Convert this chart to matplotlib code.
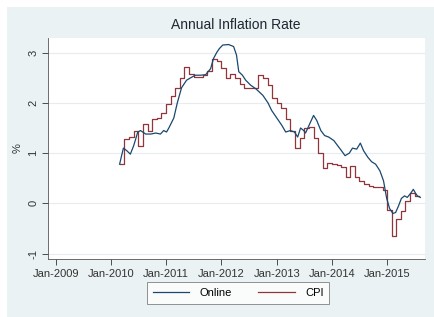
import matplotlib

matplotlib.use("Agg")
import matplotlib.dates as mdates
import matplotlib.pyplot as plt
import pandas as pd
from matplotlib.patches import Rectangle

# Online price index, annual inflation (%)
online_dates = [
    "2010-02-28", "2010-03-13", "2010-03-25", "2010-04-16", "2010-05-10", "2010-06-01",
    "2010-06-28", "2010-07-16", "2010-08-19", "2010-09-22", "2010-10-25", "2010-11-25",
    "2010-12-16", "2011-01-04", "2011-01-19", "2011-02-21", "2011-03-16", "2011-04-13",
    "2011-05-16", "2011-06-13", "2011-07-13", "2011-08-16", "2011-09-19", "2011-10-22",
    "2011-11-10", "2011-12-01", "2011-12-19", "2012-01-10", "2012-02-18", "2012-03-22",
    "2012-04-10", "2012-04-25", "2012-05-19", "2012-06-10", "2012-07-13", "2012-08-16",
    "2012-10-01", "2012-11-04", "2012-11-28", "2013-01-01", "2013-02-04", "2013-03-01",
    "2013-04-01", "2013-04-28", "2013-05-19", "2013-06-07", "2013-06-28", "2013-07-10",
    "2013-07-28", "2013-09-01", "2013-09-22", "2013-10-19", "2013-11-13", "2013-12-10",
    "2014-01-13", "2014-02-07", "2014-03-04", "2014-03-28", "2014-04-25", "2014-05-16",
    "2014-06-13", "2014-07-07", "2014-07-28", "2014-08-25", "2014-09-19", "2014-10-16",
    "2014-11-13", "2014-12-07", "2014-12-28", "2015-01-16", "2015-02-07", "2015-02-25",
    "2015-03-16", "2015-04-04", "2015-04-25", "2015-05-13", "2015-06-04", "2015-06-22",
    "2015-07-07", "2015-07-19", "2015-08-07",
]
online_values = [
    0.78, 0.95, 1.10, 1.05, 0.98, 1.15,
    1.42, 1.45, 1.38, 1.38, 1.40, 1.38,
    1.45, 1.42, 1.50, 1.70, 2.00, 2.30,
    2.45, 2.50, 2.55, 2.55, 2.56, 2.68,
    2.88, 3.00, 3.08, 3.15, 3.16, 3.12,
    2.95, 2.62, 2.55, 2.45, 2.35, 2.28,
    2.15, 2.00, 1.85, 1.70, 1.55, 1.42,
    1.45, 1.42, 1.32, 1.50, 1.45, 1.40,
    1.52, 1.75, 1.65, 1.45, 1.35, 1.32,
    1.25, 1.15, 1.05, 0.95, 1.00, 1.10,
    1.08, 1.20, 1.05, 0.92, 0.83, 0.78,
    0.65, 0.45, 0.10, -0.10, -0.20, -0.18,
    -0.05, 0.10, 0.15, 0.12, 0.20, 0.28,
    0.20, 0.15, 0.12,
]

# Official CPI, monthly, Mar-2010 .. Jul-2015
cpi_start = "2010-03-01"
cpi_values = [
    0.79, 1.28, 1.32, 1.44, 1.14, 1.58, 1.45, 1.67, 1.70, 1.80,
    1.98, 2.14, 2.29, 2.50, 2.72, 2.58, 2.52, 2.52, 2.55, 2.63, 2.87, 2.83,
    2.70, 2.50, 2.57, 2.50, 2.37, 2.30, 2.29, 2.30, 2.55, 2.50, 2.35, 2.10,
    2.00, 1.90, 1.68, 1.45, 1.10, 1.30, 1.50, 1.53, 1.30, 1.00, 0.71, 0.81,
    0.78, 0.76, 0.73, 0.52, 0.75, 0.52, 0.45, 0.39, 0.34, 0.33, 0.33, 0.27,
    -0.13, -0.65, -0.31, -0.15, 0.05, 0.20, 0.15,
]

year_ticks = ["2009", "2010", "2011", "2012", "2013", "2014", "2015"]
y_ticks = [-1, 0, 1, 2, 3]

ONLINE_COLOR = "#1a476f"
CPI_COLOR = "#90353b"
REGION_COLOR = "#eaf2f3"

plt.rcParams["font.family"] = ["Liberation Sans", "DejaVu Sans"]

fig = plt.figure(figsize=(4.34, 3.17), dpi=100)
fig.patch.set_facecolor("white")
fig.patches.append(
    Rectangle((7 / 434, 0), 1, 1 - 7 / 317, transform=fig.transFigure,
              facecolor=REGION_COLOR, edgecolor="none", zorder=-10)
)

ax = fig.add_axes([48 / 434, 1 - 259 / 317, 377 / 434, 221 / 317])
ax.set_facecolor("white")

on_x = pd.to_datetime(online_dates)
cpi_x = pd.date_range(cpi_start, periods=len(cpi_values) + 1, freq="MS")
cpi_y = cpi_values + [cpi_values[-1]]

ax.plot(on_x, online_values, color=ONLINE_COLOR, lw=0.9, label="Online", zorder=3)
ax.plot(cpi_x, cpi_y, color=CPI_COLOR, lw=0.9, drawstyle="steps-post", label="CPI", zorder=2)

ax.set_xlim(pd.Timestamp("2008-11-12"), pd.Timestamp("2015-09-07"))
ax.set_ylim(-1.105, 3.29)

ax.set_xticks([pd.Timestamp(f"{y}-01-01") for y in year_ticks])
ax.xaxis.set_major_formatter(mdates.DateFormatter("%b-%Y"))
ax.set_yticks(y_ticks)
ax.set_yticklabels([str(v) for v in y_ticks], rotation=90, va="center")
ax.tick_params(axis="both", labelsize=8, colors="#333333", length=4, width=0.6)
ax.tick_params(axis="x", pad=3)
ax.tick_params(axis="y", pad=3)
ax.grid(axis="y", color="#e6ecef", lw=0.8)
ax.set_axisbelow(True)

for side in ("top", "right"):
    ax.spines[side].set_visible(False)
for side in ("left", "bottom"):
    ax.spines[side].set_color("#555555")
    ax.spines[side].set_linewidth(0.6)

ax.set_ylabel("%", fontsize=8, color="#333333", labelpad=4)
fig.text(236 / 434, 1 - 25 / 317, "Annual Inflation Rate", ha="center", va="center",
         fontsize=10, color="#1e2833")

leg = fig.legend(loc="center", bbox_to_anchor=(238 / 434, 1 - 293 / 317), ncol=2,
                 fontsize=8, frameon=True, fancybox=False, handlelength=3.3,
                 columnspacing=2.4, handletextpad=0.9, borderpad=0.5,
                 borderaxespad=0)
leg.get_frame().set_edgecolor("#777777")
leg.get_frame().set_linewidth(0.7)

fig.savefig("out.png", dpi=100)
